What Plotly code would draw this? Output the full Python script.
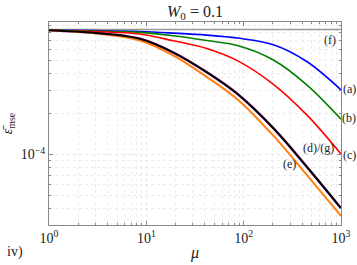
import plotly.graph_objects as go

mu = [1, 3, 8.6, 19, 41.7, 86, 202, 445, 1000]

log_a = [-3.080, -3.083, -3.089, -3.101, -3.116, -3.138, -3.187, -3.311, -3.521]
log_b = [-3.080, -3.086, -3.096, -3.121, -3.156, -3.193, -3.300, -3.484, -3.738]
log_c = [-3.080, -3.090, -3.108, -3.158, -3.215, -3.305, -3.480, -3.706, -3.995]
log_d = [-3.080, -3.100, -3.143, -3.245, -3.390, -3.550, -3.805, -4.090, -4.397]
log_e = [-3.080, -3.103, -3.156, -3.268, -3.425, -3.590, -3.860, -4.150, -4.454]
log_f = -3.075

series = [
    ("(g)", log_d, "#d040d0", 2.5),
    ("(a)", log_a, "#0000ff", 1.6),
    ("(b)", log_b, "#008000", 1.6),
    ("(c)", log_c, "#ff0000", 1.6),
    ("(e)", log_e, "#ff7f0e", 2.0),
    ("(d)", log_d, "#000000", 2.0),
]

x_ticks = [1, 10, 100, 1000]
x_ticktext = ["10<sup>0</sup>", "10<sup>1</sup>", "10<sup>2</sup>", "10<sup>3</sup>"]
y_ticks = [1e-4]
y_ticktext = ["10<sup>\u22124</sup>"]

labels = [
    ("(f)", 330, 40),
    ("(a)", 349, 89),
    ("(b)", 349, 118),
    ("(c)", 349, 155),
    ("(d)/(g)", 318, 148),
    ("(e)", 289, 164),
]

fig = go.Figure()
fig.add_trace(go.Scatter(x=[1, 1000], y=[10 ** log_f] * 2, mode="lines",
                         line=dict(color="#999999", width=1.6), showlegend=False))
for name, ly, col, w in series:
    fig.add_trace(go.Scatter(x=mu, y=[10 ** v for v in ly], mode="lines",
                             line=dict(color=col, width=w, shape="spline", smoothing=1.0),
                             showlegend=False, name=name))

W, H = 357, 265
L, R, T, B = 49, 16, 22, 40
pw, ph = W - L - R, H - T - B

serif = "Liberation Serif, DejaVu Serif, serif"
for txt, px, py in labels:
    fig.add_annotation(x=(px - L) / pw, y=1 - (py - T) / ph, xref="paper", yref="paper",
                       xanchor="center", yanchor="middle",
                       text=txt, showarrow=False, font=dict(size=12, color="#222", family=serif))

fig.add_annotation(x=(15 - L) / pw, y=1 - (252 - T) / ph, xref="paper", yref="paper",
                   xanchor="center", yanchor="middle",
                   text="iv)", showarrow=False, font=dict(size=14, color="#222", family=serif))

minor_x = [m * 10 ** k for k in range(0, 3) for m in range(2, 10)]
minor_y = [m * 1e-5 for m in range(3, 10)] + [m * 1e-4 for m in range(2, 10)]

axis_common = dict(showline=True, linecolor="#888888", linewidth=1, mirror="allticks",
                   ticks="inside", ticklen=4, tickcolor="#888888", automargin=False,
                   showgrid=True, gridcolor="#e6e6e6", griddash="dot", gridwidth=1,
                   zeroline=False, tickfont=dict(size=14, family=serif, color="#222"))

fig.update_xaxes(type="log", range=[0, 3], tickmode="array", tickvals=x_ticks, ticktext=x_ticktext,
                 title=dict(text="<i>\u03bc</i>", font=dict(size=16, family=serif, color="#222"), standoff=2),
                 minor=dict(tickmode="array", tickvals=minor_x, ticks="inside", ticklen=2,
                            tickcolor="#888888", showgrid=True, gridcolor="#ececec", griddash="dot"),
                 **axis_common)
fig.update_yaxes(type="log", range=[-4.521, -3.019], tickmode="array", tickvals=y_ticks, ticktext=y_ticktext,
                 title=dict(text="<i>\u03b5\u0304</i><sub>mse</sub>", font=dict(size=14, family=serif, color="#222"), standoff=6),
                 minor=dict(tickmode="array", tickvals=minor_y, ticks="inside", ticklen=2,
                            tickcolor="#888888", showgrid=True, gridcolor="#ececec", griddash="dot"),
                 **axis_common)

fig.update_layout(width=W, height=H, margin=dict(l=L, r=R, t=T, b=B, autoexpand=False),
                  paper_bgcolor="white", plot_bgcolor="white",
                  title=dict(text="<i>W</i><sub>0</sub> = 0.1", x=195 / W, xanchor="center",
                             y=1 - 11 / H, yanchor="middle", automargin=False,
                             font=dict(size=16, family=serif, color="#222")))

fig.write_html("out.html", config={"displayModeBar": False},
               post_script="document.body.style.margin='0';document.body.style.padding='0';"
                           "document.documentElement.style.overflow='hidden';")
